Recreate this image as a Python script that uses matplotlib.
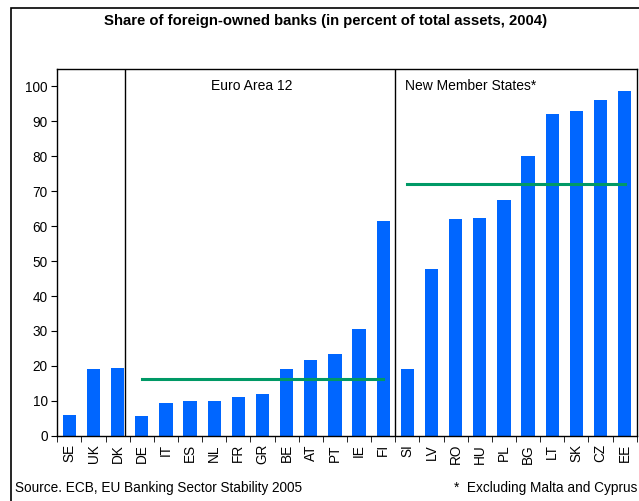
import matplotlib
matplotlib.use('Agg')
import matplotlib.pyplot as plt
from matplotlib.patches import Rectangle
import numpy as np

plt.rcParams['font.family'] = ['Liberation Sans', 'DejaVu Sans']

# 数据
countries = ['SE', 'UK', 'DK', 'DE', 'IT', 'ES', 'NL', 'FR', 'GR', 'BE', 'AT', 'PT',
             'IE', 'FI', 'SI', 'LV', 'RO', 'HU', 'PL', 'BG', 'LT', 'SK', 'CZ', 'EE']
shares = [5.9, 19.1, 19.4, 5.6, 9.4, 9.9, 9.9, 11.1, 11.9, 19.1, 21.7, 23.4,
          30.5, 61.5, 19.1, 47.7, 62.0, 62.3, 67.5, 80.1, 92.1, 92.9, 96.1, 98.7]
euro_avg = 16.1
nms_avg = 72.0
euro_span = ('DE', 'FI')
nms_span = ('SI', 'EE')

fig = plt.figure(figsize=(6.39, 5.01), dpi=100)
ax = fig.add_axes([0.0897, 0.1303, 0.9067, 0.732])

x = np.arange(len(countries))
ax.bar(x, shares, width=0.55, color='#0066FF', zorder=2)

# 平均线
e0, e1 = countries.index(euro_span[0]), countries.index(euro_span[1])
n0, n1 = countries.index(nms_span[0]), countries.index(nms_span[1])
ax.plot([e0, e1], [euro_avg, euro_avg], color='#009966', lw=2.2, zorder=3)
ax.plot([n0, n1], [nms_avg, nms_avg], color='#009966', lw=2.2, zorder=3)

# 分隔线
ax.axvline(2.29, color='black', lw=1)
ax.axvline(13.5, color='black', lw=1)

ax.text(7.55, 100, 'Euro Area 12', ha='center', va='center', fontsize=10)
ax.text(13.9, 100, 'New Member States*', ha='left', va='center', fontsize=10)

ax.set_xlim(-0.5, len(countries) - 0.5)
ax.set_ylim(0, 105)
ax.set_yticks(np.arange(0, 101, 10))
ax.tick_params(axis='y', direction='out', length=4, labelsize=9.8, pad=3)
ax.set_xticks(x)
ax.set_xticklabels(countries, rotation=90, fontsize=9.8)
ax.tick_params(axis='x', which='major', length=0, pad=6)
ax.set_xticks(np.arange(-0.5, len(countries) + 0.5, 1), minor=True)
ax.tick_params(axis='x', which='minor', direction='out', length=4)
for s in ax.spines.values():
    s.set_linewidth(1)

fig.text(0.509, 0.958, 'Share of foreign-owned banks (in percent of total assets, 2004)',
         ha='center', va='center', fontsize=10.7, fontweight='bold')
fig.text(15 / 639, 1 - 488 / 501, 'Source. ECB, EU Banking Sector Stability 2005',
         ha='left', va='center', fontsize=9.8)
fig.text(637 / 639, 1 - 488 / 501, '*  Excluding Malta and Cyprus',
         ha='right', va='center', fontsize=9.8)

# 外框
fig.add_artist(Rectangle((10.5 / 639, -0.1), 1.0, 1.1 - 8.5 / 501, transform=fig.transFigure,
                         fill=False, edgecolor='black', lw=1.2, clip_on=False))

fig.savefig('out.png', dpi=100)
